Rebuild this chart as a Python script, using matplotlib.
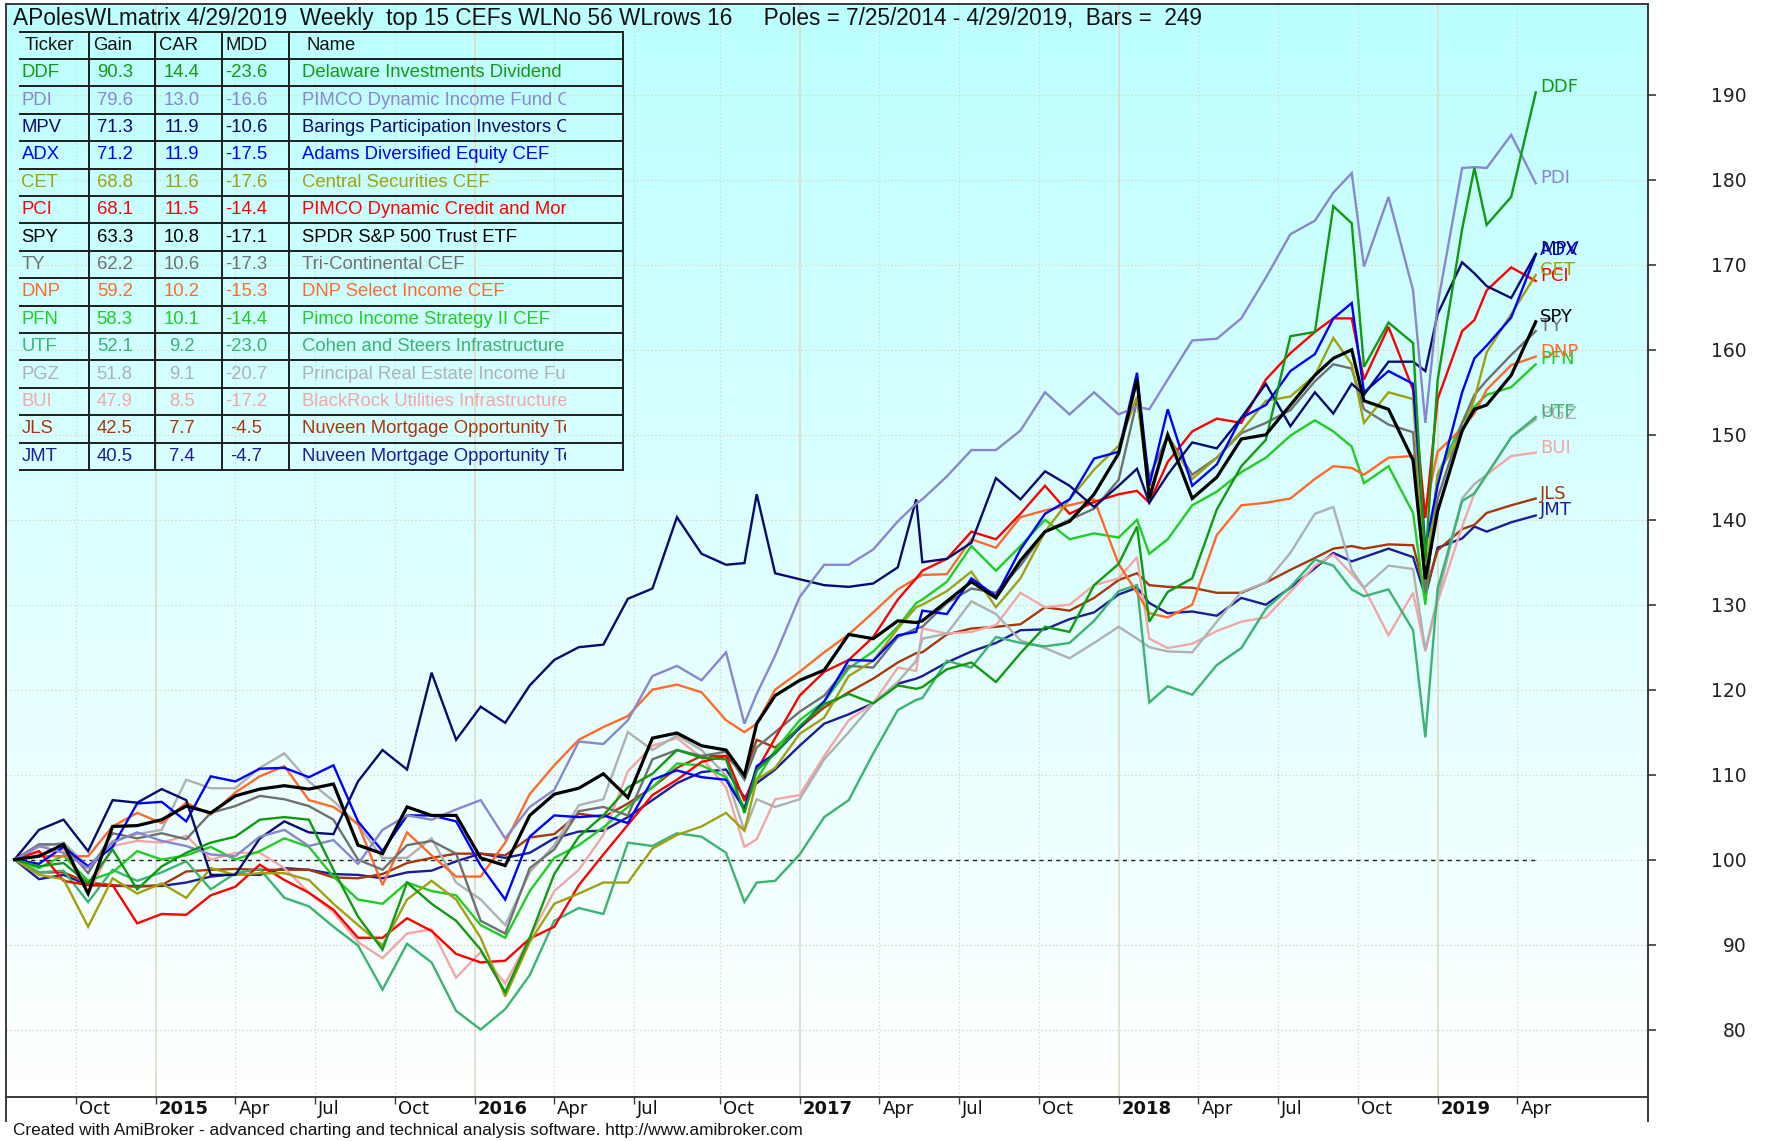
import numpy as np
import pandas as pd
import matplotlib
matplotlib.use('Agg')
import matplotlib.pyplot as plt
from matplotlib import font_manager
from matplotlib.lines import Line2D
from matplotlib.colors import LinearSegmentedColormap
from matplotlib.transforms import Bbox, TransformedBbox, blended_transform_factory

# ------------------------------------------------------------------ data
start_date = '2014-07-25'
n_bars = 249
sample_bars = (list(range(0, 117, 4)) + [119, 121] + list(range(124, 145, 4)) + [147]
               + list(range(148, 181, 4)) + [183, 185] + list(range(188, 213, 4))
               + [215, 218, 220, 224, 228, 230, 232, 236, 238, 240, 244, 248])

tickers = ['DDF', 'PDI', 'MPV', 'ADX', 'CET', 'PCI', 'SPY', 'TY', 'DNP', 'PFN',
           'UTF', 'PGZ', 'BUI', 'JLS', 'JMT']
gains = ['90.3', '79.6', '71.3', '71.2', '68.8', '68.1', '63.3', '62.2', '59.2',
         '58.3', '52.1', '51.8', '47.9', '42.5', '40.5']
cars = ['14.4', '13.0', '11.9', '11.9', '11.6', '11.5', '10.8', '10.6', '10.2',
        '10.1', '9.2', '9.1', '8.5', '7.7', '7.4']
mdds = ['-23.6', '-16.6', '-10.6', '-17.5', '-17.6', '-14.4', '-17.1', '-17.3',
        '-15.3', '-14.4', '-23.0', '-20.7', '-17.2', '-4.5', '-4.7']
names = ['Delaware Investments Dividend and Income', 'PIMCO Dynamic Income Fund CEF',
         'Barings Participation Investors CEF', 'Adams Diversified Equity CEF',
         'Central Securities CEF', 'PIMCO Dynamic Credit and Mortgage Income',
         'SPDR S&P 500 Trust ETF', 'Tri-Continental CEF', 'DNP Select Income CEF',
         'Pimco Income Strategy II CEF', 'Cohen and Steers Infrastructure Fund',
         'Principal Real Estate Income Fund', 'BlackRock Utilities Infrastructure',
         'Nuveen Mortgage Opportunity Term Fund', 'Nuveen Mortgage Opportunity Term Fund 2']

ddf = [100, 99.2, 99.6, 97.2, 101.2, 96.5, 99.2, 100.8, 102, 102.7, 104.7, 105, 104.7,
       98.8, 93.3, 89.4, 97.3, 94.8, 92.8, 89.4, 84.4, 90.8, 98.3, 102.7,
       105.2, 108.5, 110.1, 112.9, 112, 111.8, 105.5, 110.5, 112.5, 115.7, 118.3, 119.5,
       118.4, 120.5, 120.1, 120.3, 122.4, 123.2, 120.9, 124.3, 127.4, 126.8, 132.3, 134.8,
       139.2, 128,
       131.5, 133.1, 141.2, 146.3, 149.4, 161.6, 162.1,
       176.9, 174.9, 158, 163.2, 160.8,
       135, 156.4, 174.2, 181.4, 174.7, 178, 190.3]
pdi = [100, 101.6, 100.8, 99, 102, 103.2, 102.2, 101.6, 100.6, 100.4, 102.7, 103.5, 101.6,
       102.3, 99.5, 103.5, 105.2, 104.7, 105.9, 107, 102.5, 106.2, 108.2, 113.9,
       113.6, 116.4, 121.6, 122.8, 121.1, 124.4, 116, 119.5, 124, 130.9, 134.7, 134.7,
       136.5, 139.8, 141.9, 142.4, 145.1, 148.2, 148.2, 150.5, 155, 152.4, 155, 152.4,
       153.3, 153,
       156.5, 161.1, 161.3, 163.7, 168.5, 173.6, 175.2,
       178.5, 180.8, 169.8, 178, 167,
       151.4, 165.3, 181.4, 181.5, 181.4, 185.3, 179.6]
mpv = [100, 103.5, 104.7, 101, 107, 106.7, 108.3, 107, 98.2, 98.2, 102.5, 104.5, 103.2,
       103, 109.2, 112.9, 110.6, 122, 114.1, 118, 116.1, 120.5, 123.5, 125,
       125.3, 130.7, 131.9, 140.3, 136, 134.7, 134.9, 143, 133.7, 133, 132.3, 132.1,
       132.5, 134.4, 142.4, 135, 135.4, 137.3, 144.9, 142.4, 145.7, 144, 141.5, 144,
       146, 142,
       145.3, 149.1, 148.4, 152, 156, 151, 155,
       152.5, 156, 154.7, 158.6, 158.6,
       157.5, 164.2, 170.3, 169, 167.5, 166.1, 171.3]
adx = [100, 99.5, 101.5, 99.2, 101.5, 106.6, 106.8, 104.5, 109.8, 109.2, 110.7, 110.8, 109.7,
       111.1, 104.5, 101, 105.2, 105.2, 104.5, 99.3, 95.3, 102.7, 105.2, 105,
       105.2, 104.3, 109.4, 110.5, 109.7, 109.4, 105.9, 111, 112.5, 115.5, 118.6, 123.5,
       123.4, 126.4, 126.8, 129.3, 128.9, 133.1, 131, 136.5, 140.7, 142.4, 147.2, 148,
       157.3, 144,
       153, 144, 146.5, 152, 153.5, 157.5, 159.5,
       163.7, 165.5, 155, 157.5, 156,
       136.7, 144, 155, 159, 160.5, 163.8, 171.2]
cet = [100, 98.2, 97.7, 92.1, 97.8, 96, 97.2, 95.5, 99, 98.2, 98.4, 98.4, 97.6,
       94.8, 92.3, 89.9, 95.3, 97.5, 95.3, 90.8, 83.9, 90.3, 94.8, 96,
       97.3, 97.3, 101.3, 102.9, 103.9, 105.5, 103.4, 109.4, 110.8, 114.8, 116.7, 121.6,
       123.4, 127.2, 129.7, 130, 131.6, 133.9, 129.7, 133.1, 138.6, 142.4, 145.9, 148.7,
       154.5, 143,
       149.9, 144.8, 147.3, 150.4, 154, 154.5, 157,
       161.4, 158.3, 151.4, 155, 154.2,
       133, 145.3, 150.3, 154.2, 159.7, 164.2, 168.8]
pci = [100, 101, 97.5, 97, 97, 92.5, 93.6, 93.5, 95.8, 96.8, 99.4, 97.6, 96.1,
       94.1, 90.8, 90.8, 93.1, 91.6, 88.9, 87.9, 88.1, 90.7, 92.1, 97,
       100.6, 104.1, 107.6, 109.4, 111.5, 112.2, 106.9, 110.5, 114.3, 119.3, 122.1, 123.5,
       126.2, 130.6, 133.1, 134, 135.4, 138.6, 137.7, 140.7, 144, 140.7, 142.1, 143,
       143.4, 142,
       146.8, 150.4, 151.9, 151.4, 156.5, 159.6, 162.1,
       163.7, 163.7, 156.5, 162.7, 155.3,
       140.2, 154.2, 162.2, 163.5, 167, 169.7, 168.1]
spy = [100, 100.4, 101.8, 96, 103.9, 104, 104.7, 106.3, 105.5, 107.5, 108.3, 108.7, 108.3,
       108.9, 101.7, 100.7, 106.2, 105.2, 105.2, 100.2, 99.3, 105.2, 107.7, 108.4,
       110.1, 107.3, 114.3, 114.9, 113.4, 112.9, 109.9, 116, 119.3, 121.1, 122.3, 126.5,
       126, 128.1, 127.9, 128.1, 130.4, 132.7, 130.8, 135.2, 138.6, 139.8, 143, 147.8,
       156.5, 142.5,
       150, 142.5, 145, 149.5, 150, 153.5, 157,
       159, 160, 154, 153, 147,
       133, 141, 150.5, 153, 153.5, 157, 163.3]
ty = [100, 101.8, 101.8, 98.4, 103.1, 102.5, 103.1, 102.4, 105.5, 106.3, 107.5, 107.1, 106.3,
      104.7, 100, 98.8, 101.7, 102.2, 100.7, 92.8, 91.3, 99, 101.2, 105.7,
      106.2, 105.2, 111.8, 112.9, 112.2, 112.7, 109.4, 113.2, 115, 117.4, 119.3, 122.8,
      122.6, 126.2, 127.2, 127.4, 130.2, 131.9, 131.4, 134.6, 138.6, 140, 141.3, 144.7,
      154, 145,
      149.9, 145.3, 147.3, 150.2, 151.4, 152.9, 156.3,
      158.3, 157.8, 153, 151.2, 150.3,
      131.5, 142.5, 151.4, 154.7, 156.4, 159.4, 162.2]
dnp = [100, 100.4, 100.4, 100.4, 103.9, 105.5, 104.3, 106.7, 105.3, 107.9, 109.8, 111, 107,
       106.2, 104.2, 97, 103.2, 100.5, 98, 98, 102, 107.7, 111.1, 114.1,
       115.6, 116.9, 120, 120.6, 119.7, 116.4, 115, 116, 120, 122.1, 124.4, 126.5,
       129.1, 131.8, 133.1, 133.5, 133.6, 137.7, 136.7, 140.3, 141.1, 141.7, 142.4, 134.8,
       131.4, 129,
       128.5, 130, 138.2, 141.7, 142, 142.5, 144.8,
       146.3, 146.1, 145.3, 147.3, 147.5,
       141, 148, 150.8, 152.5, 155.3, 158.2, 159.2]
pfn = [100, 99, 100.5, 97.5, 98.5, 101, 100, 100.5, 101.5, 100, 101, 102.5, 101.5,
       98, 95.3, 94.8, 97.3, 96.3, 95.8, 92.3, 90.8, 96.3, 100.2, 101.7,
       103.8, 106.2, 108.5, 111.3, 111.1, 109.7, 106.2, 109.4, 112.9, 116.4, 118.6, 122.5,
       124.5, 127.4, 130.2, 130.6, 132.7, 136.9, 134, 136.9, 140, 137.7, 138.4, 137.9,
       140, 136,
       137.7, 141.7, 143.3, 145.6, 147.3, 149.9, 151.7,
       150.4, 148.6, 144.3, 146.3, 140.8,
       130, 145.3, 151.4, 153.3, 154.7, 155.6, 158.3]
utf = [100, 98.5, 98.7, 95, 98.8, 97.5, 98.5, 99.8, 96.5, 98.4, 98.9, 95.5, 94.5,
       92.1, 89.9, 84.7, 90.1, 87.9, 82.2, 80, 82.4, 86.4, 92.8, 94.3,
       93.6, 102, 101.6, 103.1, 102.7, 100.8, 95, 97.3, 97.5, 100.6, 105, 107,
       112.5, 117.6, 118.8, 119, 123.4, 122.6, 126.2, 125.5, 125.1, 125.5, 128.1, 131.6,
       132.3, 118.5,
       120.4, 119.4, 122.9, 124.9, 129.5, 132.1, 135.3,
       134.6, 131.8, 131, 131.8, 127,
       114.4, 131.9, 142.2, 143.1, 145.3, 149.7, 152.1]
pgz = [100, 101.5, 102, 99.2, 102.2, 103, 103.5, 109.4, 108.4, 108.4, 110.8, 112.5, 109.2,
       106.9, 104.1, 100.2, 100.2, 102.5, 97.3, 95.3, 92.3, 98.5, 101.7, 106.4,
       107.1, 115, 112.9, 114.6, 112.9, 109.9, 103.4, 107.1, 106.2, 107.1, 111.8, 115,
       118.4, 120.9, 123.4, 126, 126.6, 130.4, 128.9, 125.8, 124.9, 123.7, 125.5, 127.4,
       126, 125,
       124.5, 124.4, 128, 131.5, 132.6, 136.1, 140.7,
       141.5, 134.1, 132, 134.6, 134.2,
       124.7, 130.8, 142.5, 144.2, 145.3, 149.7, 151.8]
bui = [100, 100.6, 101.2, 96, 101.6, 102.2, 102, 102.8, 100, 100.8, 100.8, 99, 96.1,
       93.8, 90.3, 88.4, 91.3, 91.8, 86.1, 89.1, 85.4, 90.8, 96.3, 98.8,
       102.9, 110.4, 113.4, 114.3, 112, 108.5, 101.5, 102.4, 107.1, 107.6, 112.2, 116.4,
       118.4, 122.6, 122.2, 127.2, 126.6, 126.8, 127.6, 131.4, 129.7, 130, 132.3, 133.1,
       135.6, 126,
       124.9, 125.4, 126.9, 128, 128.5, 131.5, 134.6,
       135.9, 133.6, 132, 126.4, 131.4,
       124.5, 130.3, 139.2, 143.1, 145.3, 147.5, 147.9]
jls = [100, 98.5, 98.5, 97.3, 97, 96.8, 97, 98.6, 98.8, 98.9, 98.8, 98.8, 98.8,
       97.9, 97.8, 98.3, 99.6, 100.2, 100.7, 100.7, 100.5, 102.6, 103, 105.4,
       105, 106.6, 108.5, 110.8, 112.2, 112.2, 110, 114.1, 113.2, 115.5, 117.9, 119.7,
       121.3, 123.2, 124.3, 124.4, 126.5, 127.2, 127.4, 127.7, 129.7, 129.3, 130.8, 132.9,
       133.7, 132.3,
       132.1, 132, 131.4, 131.4, 132.6, 134.1, 135.5,
       136.6, 136.9, 136.6, 137.1, 137,
       131.5, 136.4, 138.9, 139.4, 140.8, 141.7, 142.5]
jmt = [100, 97.7, 98.2, 97, 96.9, 96.9, 96.9, 97.3, 98, 98.3, 98.2, 99, 98.8,
       98.3, 98.2, 97.8, 98.5, 98.7, 99.8, 100.7, 100.2, 100.8, 102.5, 103.3,
       103.4, 105, 107, 109, 110.3, 110.6, 107.3, 109, 110.6, 113.4, 116, 117.1,
       118.4, 120.7, 121.3, 121.6, 123.2, 124.5, 125.5, 127, 127.1, 128.3, 129.1, 131.2,
       132, 130.2,
       129, 129.2, 128.7, 130.8, 130, 132, 134.3,
       136.1, 135.1, 135.6, 136.6, 135.6,
       131, 136.7, 137.8, 139.2, 138.6, 139.7, 140.5]

series = [ddf, pdi, mpv, adx, cet, pci, spy, ty, dnp, pfn, utf, pgz, bui, jls, jmt]
for s in series:
    assert len(s) == len(sample_bars), len(s)

y_ticks = list(range(80, 191, 10))

# ------------------------------------------------------------------ style
colors = ['#109a10', '#8a86cc', '#0a0a6e', '#0000ff', '#a0a010', '#ff0000', '#000000',
          '#707070', '#ff6a2a', '#22cc22', '#3cb371', '#b0b0b0', '#f4a6a6', '#a8380c',
          '#1c1c96']

avail = {f.name for f in font_manager.fontManager.ttflist}
narrow = 'Liberation Sans Narrow' if 'Liberation Sans Narrow' in avail else 'Liberation Sans'
main_font = 'DejaVu Sans'

W, H, DPI = 1768, 1141, 100
L, R, T, B = 6, 1648, 4, 1097          # plot frame in pixels


def fx(x):
    return x / W


def fy(y):
    return 1 - y / H


fig = plt.figure(figsize=(W / DPI, H / DPI), dpi=DPI)
fig.patch.set_facecolor('white')
ax = fig.add_axes([fx(L), fy(B), (R - L) / W, (B - T) / H])

x_min, x_max = -1.38, 266.3
y_min, y_max = 72.06, 200.7
ax.set_xlim(x_min, x_max)
ax.set_ylim(y_min, y_max)

# background gradient
bg = LinearSegmentedColormap.from_list('bg', ['#ffffff', '#bcffff'])
ax.imshow(np.linspace(0, 1, 256).reshape(-1, 1), extent=[x_min, x_max, y_min, y_max],
          aspect='auto', cmap=bg, origin='lower', zorder=0, interpolation='bilinear')

# date axis from weekly bars
dates = pd.date_range(start_date, periods=n_bars, freq='7D')
tick_pos, tick_lab, tick_year = [], [], []
for i in range(1, n_bars):
    d, p = dates[i], dates[i - 1]
    if d.month != p.month and d.month in (1, 4, 7, 10):
        tick_pos.append(i)
        if d.month == 1:
            tick_lab.append(str(d.year))
            tick_year.append(True)
        else:
            tick_lab.append(d.strftime('%b'))
            tick_year.append(False)

# grid
for yv in y_ticks:
    ax.axhline(yv, color='#d6d4bc', lw=0.9, ls=(0, (1, 2)), zorder=1)
for pos, yr in zip(tick_pos, tick_year):
    if yr:
        ax.axvline(pos, color='#dedac6', lw=1.2, zorder=1)
    else:
        ax.axvline(pos, color='#d6d4bc', lw=0.9, ls=(0, (1, 2)), zorder=1)

# baseline 100
ax.plot([0, n_bars - 1], [100, 100], color='#222222', lw=1.0, ls=(0, (3, 3)), zorder=2)

# series
for k in range(len(series) - 1, -1, -1):
    lw = 2.3 if tickers[k] == 'SPY' else 1.7
    z = 6 if tickers[k] == 'SPY' else 3 + (len(series) - k) * 0.01
    ax.plot(sample_bars, series[k], color=colors[k], lw=lw, zorder=z,
            solid_joinstyle='miter')
    ax.text(sample_bars[-1] + 0.7, series[k][-1], tickers[k], color=colors[k],
            fontsize=13, family=main_font, ha='left', va='baseline', zorder=7)

# axes frame / ticks
for sp in ax.spines.values():
    sp.set_color('#3a3a3a')
    sp.set_linewidth(1.4)
ax.yaxis.tick_right()
ax.set_yticks(y_ticks)
ax.set_yticklabels([str(v) for v in y_ticks])
ax.tick_params(axis='y', direction='out', length=6, width=1.2, color='#3a3a3a',
               labelsize=13.5, pad=65, labelcolor='#222222')
for lab in ax.get_yticklabels():
    lab.set_horizontalalignment('right')
    lab.set_family(main_font)
ax.set_xticks(tick_pos)
ax.set_xticklabels([])
ax.tick_params(axis='x', direction='out', length=5, width=1.0, color='#3a3a3a')

trans = blended_transform_factory(ax.transData, ax.transAxes)
for pos, lab, yr in zip(tick_pos, tick_lab, tick_year):
    ax.text(pos + 0.5, -0.003, lab, transform=trans, ha='left', va='top',
            fontsize=13, family=main_font, fontweight='bold' if yr else 'normal',
            color='#111111', clip_on=False)

# frame extension below the axis band
for xx in (L, R):
    fig.add_artist(Line2D([fx(xx), fx(xx)], [fy(B), fy(1121)], transform=fig.transFigure,
                          color='#3a3a3a', lw=1.4))

# title and footer
fig.text(fx(13), fy(19), 'APolesWLmatrix 4/29/2019  Weekly  top 15 CEFs WLNo 56 WLrows 16'
         '     Poles = 7/25/2014 - 4/29/2019,  Bars =  249',
         fontsize=16.3, family=narrow, va='center', ha='left', color='#111111')
fig.text(fx(13), fy(1131), 'Created with AmiBroker - advanced charting and technical '
         'analysis software. http://www.amibroker.com',
         fontsize=12.4, family=narrow, va='center', ha='left', color='#111111')

# ------------------------------------------------------------------ table
tb_left, tb_right, tb_top, row_h = 20.3, 622.5, 31.6, 27.4
col_lines = [88.6, 155.1, 222.0, 289.0, 622.5]
n_rows = len(tickers) + 1
tb_bottom = tb_top + n_rows * row_h
for k in range(n_rows + 1):
    yy = tb_top + k * row_h
    fig.add_artist(Line2D([fx(tb_left), fx(tb_right)], [fy(yy), fy(yy)],
                          transform=fig.transFigure, color='#1e1e1e', lw=1.4, zorder=8))
for xx in col_lines:
    fig.add_artist(Line2D([fx(xx), fx(xx)], [fy(tb_top), fy(tb_bottom)],
                          transform=fig.transFigure, color='#1e1e1e', lw=1.4, zorder=8))

tsize = 13.3


def cell_text(x, row, s, color, ha='left', clip_right=None, clip_left=None):
    yy = tb_top + (row + 0.5) * row_h
    t = fig.text(fx(x), fy(yy), s, fontsize=tsize, family=narrow, color=color,
                 ha=ha, va='center', zorder=9)
    if clip_right is not None:
        bb = Bbox([[fx(clip_left), fy(tb_bottom)], [fx(clip_right), fy(tb_top)]])
        t.set_clip_box(TransformedBbox(bb, fig.transFigure))
        t.set_clip_on(True)
    return t


cell_text(25, 0, 'Ticker', '#111111', clip_left=20, clip_right=74.5)
cell_text(93, 0, 'Gain', '#111111')
cell_text(159, 0, 'CAR', '#111111')
cell_text(226, 0, 'MDD', '#111111')
cell_text(307, 0, 'Name', '#111111')
for k in range(len(tickers)):
    c = colors[k]
    cell_text(21.5, k + 1, tickers[k], c)
    cell_text(114.7, k + 1, gains[k], c, ha='center')
    cell_text(182, k + 1, cars[k], c, ha='center')
    cell_text(246, k + 1, mdds[k], c, ha='center')
    cell_text(302, k + 1, names[k], c, clip_left=290, clip_right=566)

fig.savefig('out.png', dpi=DPI, facecolor='white')
